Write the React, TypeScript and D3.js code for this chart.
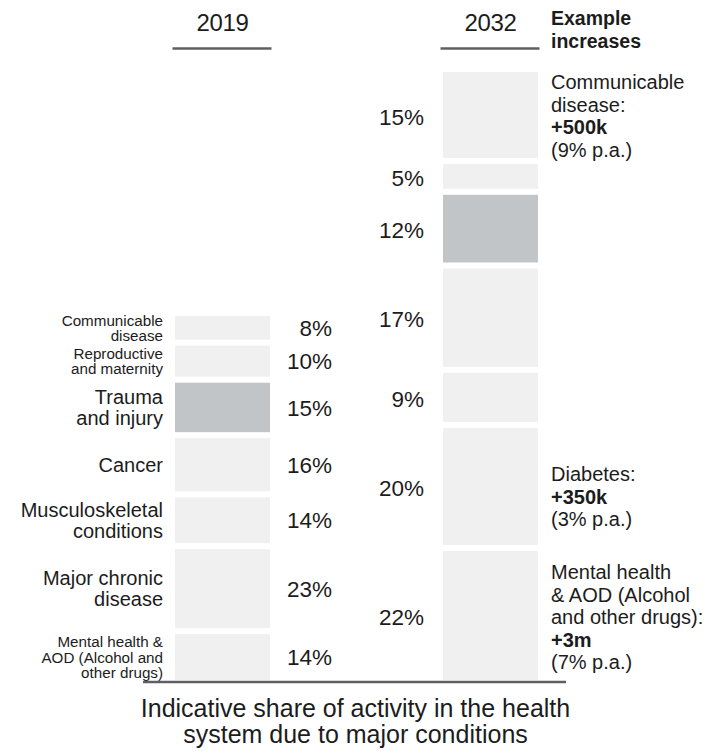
import React from "react";
import * as d3 from "d3";

// ---- Data ----
const years = ["2019", "2032"];
// bottom → top
const categories = [
  "Mental health & AOD",
  "Major chronic disease",
  "Musculoskeletal conditions",
  "Cancer",
  "Trauma and injury",
  "Reproductive and maternity",
  "Communicable disease",
];
const share2019 = [14, 23, 14, 16, 15, 10, 8];
const share2032 = [22, 20, 9, 17, 12, 5, 15];
// relative total activity (2019 = 100)
const totalActivity = [100, 166];
const highlighted = ["Trauma and injury"];

const labelLines2019 = [
  ["Mental health &", "AOD (Alcohol and", "other drugs)"],
  ["Major chronic", "disease"],
  ["Musculoskeletal", "conditions"],
  ["Cancer"],
  ["Trauma", "and injury"],
  ["Reproductive", "and maternity"],
  ["Communicable", "disease"],
];
const smallLabels = ["Mental health & AOD", "Reproductive and maternity", "Communicable disease"];

const annotationCategories = ["Communicable disease", "Major chronic disease", "Mental health & AOD"];
const annotationText = [
  ["Communicable", "disease:"],
  ["Diabetes:"],
  ["Mental health", "& AOD (Alcohol", "and other drugs):"],
];
const annotationValue = ["+500k", "+350k", "+3m"];
const annotationRate = ["(9% p.a.)", "(3% p.a.)", "(7% p.a.)"];
const annotationShift = [0.5, 10, 1.5];

const headerNote = ["Example", "increases"];
const titleLines = ["Indicative share of activity in the health", "system due to major conditions"];

const W = 722;
const H = 751;
const TEXT = "#1c1c1c";
const SANS = "'Liberation Sans', Arial, Helvetica, sans-serif";

export default function App() {
  const x = d3.scalePoint<string>().domain(years).range([222.5, 490.5]);
  const barW = 95;
  const y = d3.scaleLinear().domain([0, 166]).range([683, 69]);
  const inset = 3;

  const shares = [share2019, share2032];
  const segs = years.map((yr, yi) => {
    const vals = shares[yi].map((s) => (s / 100) * totalActivity[yi]);
    let cum = 0;
    return vals.map((v, ci) => {
      const s0 = cum;
      cum += v;
      return { yr, yi, ci, cat: categories[ci], pct: shares[yi][ci], y0: y(s0), y1: y(cum) };
    });
  });

  const cx0 = x("2019")!;
  const cx1 = x("2032")!;
  const pfs = 22.5;

  return (
    <svg width={W} height={H} style={{ position: "absolute", left: 0, top: 0, background: "#fff" }}>
      {/* headers */}
      {years.map((yr) => (
        <g key={yr}>
          <text x={x(yr)} y={31} textAnchor="middle" fontFamily={SANS} fontSize={24} letterSpacing={-0.3} fill={TEXT}>
            {yr}
          </text>
          <line x1={x(yr)! - 50} x2={x(yr)! + 49} y1={48.5} y2={48.5} stroke="#5f5f63" strokeWidth={2.5} />
        </g>
      ))}
      {headerNote.map((t, i) => (
        <text key={t} x={551} y={25 + i * 23} fontFamily={SANS} fontWeight="bold" fontSize={19.5} fill={TEXT}>
          {t}
        </text>
      ))}

      {/* bars */}
      {segs.map((list, yi) =>
        list.map((s) => (
          <rect
            key={`${yi}-${s.ci}`}
            x={x(years[yi])! - barW / 2}
            y={s.y1 + inset}
            width={barW}
            height={Math.max(0, s.y0 - s.y1 - 2 * inset)}
            fill={highlighted.includes(s.cat) ? "#c1c5c7" : "#f0f0f0"}
          />
        ))
      )}

      {/* 2019 category labels */}
      {segs[0].map((s) => {
        const small = smallLabels.includes(s.cat);
        const fs = small ? 15.2 : 20;
        const lh = small ? 15.5 : 21;
        const lines = labelLines2019[s.ci];
        const c = (s.y0 + s.y1) / 2;
        return (
          <text key={`l${s.ci}`} textAnchor="end" fontFamily={SANS} fontSize={fs} fill={TEXT}>
            {lines.map((ln, i) => (
              <tspan key={i} x={cx0 - barW / 2 - 12} y={c - ((lines.length - 1) / 2) * lh + i * lh + fs * 0.36}>
                {ln}
              </tspan>
            ))}
          </text>
        );
      })}

      {/* percentage labels */}
      {segs[0].map((s) => (
        <text key={`p0${s.ci}`} x={cx0 + barW / 2 + 62} y={(s.y0 + s.y1) / 2 + pfs * 0.36} textAnchor="end" fontFamily={SANS} fontSize={pfs} fill={TEXT}>
          {s.pct}%
        </text>
      ))}
      {segs[1].map((s) => (
        <text key={`p1${s.ci}`} x={cx1 - barW / 2 - 19} y={(s.y0 + s.y1) / 2 + pfs * 0.36 + 1.5} textAnchor="end" fontFamily={SANS} fontSize={pfs} fill={TEXT}>
          {s.pct}%
        </text>
      ))}

      {/* annotations */}
      {annotationCategories.map((cat, ai) => {
        const s = segs[1][categories.indexOf(cat)];
        const lines = [...annotationText[ai], annotationValue[ai], annotationRate[ai]];
        const lh = 22.5;
        const fs = 20;
        const c = (s.y0 + s.y1) / 2 + annotationShift[ai];
        return (
          <text key={cat} fontFamily={SANS} fontSize={fs} fill={TEXT}>
            {lines.map((ln, i) => (
              <tspan
                key={i}
                x={cx1 + barW / 2 + 13}
                y={c - ((lines.length - 1) / 2) * lh + i * lh + fs * 0.36}
                fontWeight={ln === annotationValue[ai] ? "bold" : "normal"}
              >
                {ln}
              </tspan>
            ))}
          </text>
        );
      })}

      {/* baseline */}
      <line x1={143} x2={566} y1={682} y2={682} stroke="#5f5f63" strokeWidth={2.5} />

      {/* title */}
      {titleLines.map((t, i) => (
        <text key={t} x={355.5} y={717 + i * 25.5} textAnchor="middle" fontFamily={SANS} fontSize={25} fill={TEXT}>
          {t}
        </text>
      ))}
    </svg>
  );
}
